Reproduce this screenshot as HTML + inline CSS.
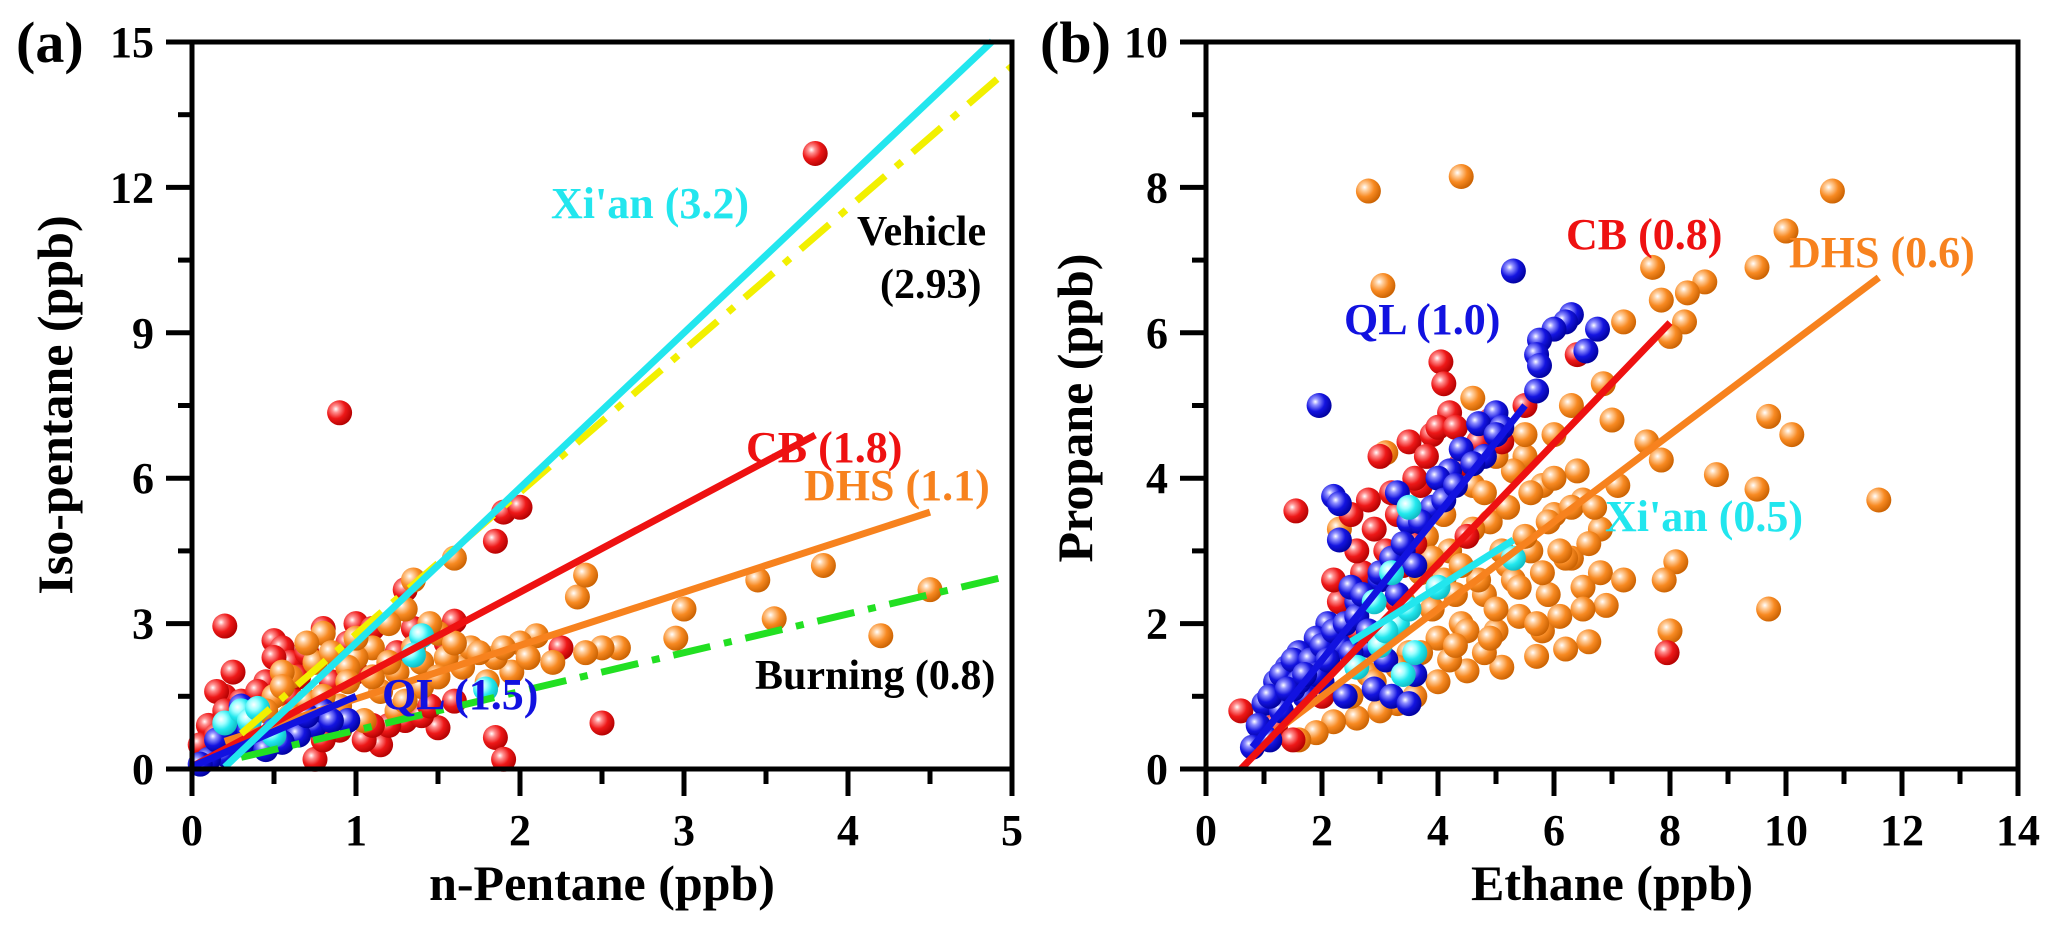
<!DOCTYPE html>
<html><head><meta charset="utf-8">
<style>
html,body{margin:0;padding:0;background:#fff;}
svg{display:block;font-family:"Liberation Serif",serif;font-weight:bold;}
</style></head>
<body>
<svg id="chart" width="2067" height="927" viewBox="0 0 2067 927" xmlns="http://www.w3.org/2000/svg">
<defs>
<radialGradient id="g-red" cx="0.35" cy="0.35" r="0.7"><stop offset="0" stop-color="#fff"/><stop offset="0.2" stop-color="#ff9090"/><stop offset="0.55" stop-color="#ee1818"/><stop offset="1" stop-color="#b00000"/></radialGradient>
<radialGradient id="g-orange" cx="0.35" cy="0.35" r="0.7"><stop offset="0" stop-color="#fff"/><stop offset="0.2" stop-color="#ffd0a0"/><stop offset="0.55" stop-color="#f88a22"/><stop offset="1" stop-color="#c86000"/></radialGradient>
<radialGradient id="g-blue" cx="0.35" cy="0.35" r="0.7"><stop offset="0" stop-color="#fff"/><stop offset="0.2" stop-color="#9090ff"/><stop offset="0.55" stop-color="#1414e0"/><stop offset="1" stop-color="#00009a"/></radialGradient>
<radialGradient id="g-cyan" cx="0.35" cy="0.35" r="0.7"><stop offset="0" stop-color="#fff"/><stop offset="0.3" stop-color="#a0ffff"/><stop offset="0.6" stop-color="#22e8ee"/><stop offset="1" stop-color="#10b8c0"/></radialGradient>
</defs>
<g id="pa"></g>
<g id="pb"></g>
</svg>
<script>
// ---- Panel (a) data ----
const aRedX=[0.9,3.8,1.9,1.85,2.0,0.2,0.25,0.2,0.1,0.05,0.5,0.55,0.6,0.7,0.8,1.0,1.1,1.3,1.6,1.85,1.9,2.5,2.25,1.5,1.3,1.15,1.05,0.75,0.9,0.4,0.3,0.15,1.4,1.2,0.6,0.45,0.7,0.35,0.85,1.0,1.6,1.25,0.15,0.3,0.5,0.65,0.95,1.35,1.55,0.2,0.4,0.8,1.1,1.45];
const aRedY=[7.35,12.7,5.3,4.7,5.4,2.95,2.0,1.5,0.9,0.5,2.65,2.5,2.2,2.4,2.9,3.0,2.9,3.7,3.05,0.65,0.2,0.95,2.5,0.85,1.0,0.5,0.6,0.2,0.8,1.3,1.0,0.7,1.1,0.9,1.5,1.8,1.1,0.6,1.8,2.0,1.4,2.4,1.6,1.4,2.3,1.9,2.6,2.9,2.6,1.2,1.6,0.6,0.9,1.3];
const aOrgX=[4.5,4.2,3.85,3.55,3.45,3.0,2.95,2.6,2.5,2.4,2.35,2.4,2.1,2.0,1.95,1.85,1.6,1.5,1.45,1.3,1.35,1.2,1.1,1.0,0.95,0.8,0.75,0.6,0.55,0.5,0.45,0.7,0.9,1.15,1.4,1.65,1.8,1.7,0.3,0.2,0.4,1.25,1.05,0.65,1.55,2.2,0.55,0.85,1.0,1.25,1.4,1.6,1.75,0.7,0.95,1.2,1.35,1.5,1.9,2.05,0.6,0.8,1.1,1.3];
const aOrgY=[3.7,2.75,4.2,3.1,3.9,3.3,2.7,2.5,2.5,2.4,3.55,4.0,2.75,2.6,2.0,2.3,4.35,2.8,3.0,3.3,3.9,3.0,2.5,2.3,2.1,2.8,2.2,1.9,2.0,1.5,1.2,1.4,1.3,1.6,1.7,2.1,1.8,2.5,0.9,0.5,0.5,1.2,1.0,0.8,2.3,2.2,1.7,2.4,2.7,2.0,2.2,2.6,2.4,2.6,1.8,2.2,2.5,1.9,2.5,2.3,1.1,1.5,1.9,1.4];
const aBluX=[0.95,0.75,0.6,0.65,0.5,0.4,0.3,0.2,0.1,0.05,0.3,0.25,0.45,0.15,0.8,0.55,0.35,0.7,0.85];
const aBluY=[1.0,0.9,0.9,0.7,0.8,0.6,0.5,0.3,0.2,0.1,1.3,0.9,0.4,0.6,1.2,0.55,0.8,1.1,1.0];
const aCyaX=[0.2,0.3,0.35,1.4,1.35,0.5,0.4,1.79];
const aCyaY=[0.95,1.2,1.0,2.75,2.35,0.7,1.25,1.65];
const aLineXian=[0.2,4.88,3.2,-0.6];
const aLineVehicle=[0.3,5.0,2.93,-0.15];
const aLineCB=[0,3.8,1.8,0.05];
const aLineDHS=[0.2,4.5,1.1,0.35];
const aLineBurning=[0.3,5.0,0.8,0.0];
const aLineQL=[0,1.0,1.45,0.05];
const aXTicks=[0,1,2,3,4,5];
const aYTicks=[0,3,6,9,12,15];

// ---- Panel (b) data ----
const bOrgX=[2.8,4.4,3.05,10.8,10.0,9.5,7.7,8.6,8.3,7.85,8.25,8.0,7.2,6.85,7.6,7.85,8.8,9.7,10.1,9.5,11.6,8.1,7.9,8.0,9.7,6.8,6.5,6.0,6.3,6.5,6.8,6.9,6.6,6.2,5.8,5.4,5.1,4.8,4.5,4.2,4.8,5.2,5.6,5.9,6.1,5.7,4.0,3.6,3.3,3.0,2.6,2.2,1.9,1.6,4.4,4.9,5.5,6.0,5.3,4.6,3.1,2.3,3.8,5.8,6.4,7.0,6.3,3.5,4.1,2.8,5.0,6.5,7.2,5.3,
 3.9,4.3,4.7,5.1,5.5,5.9,6.3,4.0,4.5,5.0,5.4,5.8,6.2,6.6,4.2,4.6,5.2,5.6,6.0,3.7,4.1,4.6,5.0,5.5,6.1,2.5,2.9,3.3,3.7,4.3,4.9,5.7,6.7,7.1,3.4,3.9,4.4,4.8];
const bOrgY=[7.95,8.15,6.65,7.95,7.4,6.9,6.9,6.7,6.55,6.45,6.15,5.95,6.15,5.3,4.5,4.25,4.05,4.85,4.6,3.85,3.7,2.85,2.6,1.9,2.2,3.3,3.7,3.5,2.9,2.5,2.7,2.25,1.75,1.65,1.9,2.1,1.4,1.6,1.35,1.5,2.4,2.8,3.0,2.4,2.1,1.55,1.2,1.0,0.9,0.8,0.7,0.65,0.5,0.4,2.0,3.4,4.3,4.6,4.1,5.1,4.35,3.3,3.2,3.9,4.1,4.8,5.0,1.6,2.6,1.3,1.9,2.2,2.6,2.6,
 2.2,2.4,2.6,3.0,3.2,3.4,3.6,1.8,1.9,2.2,2.5,2.7,2.9,3.1,3.0,3.3,3.6,3.8,4.0,2.7,3.5,3.9,4.3,4.6,3.0,1.0,1.2,1.4,1.6,1.7,1.8,2.0,3.6,3.9,2.3,2.9,2.8,3.8];
const bRedX=[0.6,1.55,2.3,2.2,2.5,2.8,3.0,3.5,3.9,4.05,4.1,4.2,4.0,4.5,3.1,2.7,2.4,3.3,3.7,4.4,4.9,5.5,6.4,7.95,1.2,1.5,2.0,2.6,3.3,3.6,5.1,2.9,3.2,3.6,3.8,4.3,4.7,2.6,3.4,1.8,2.1];
const bRedY=[0.8,3.55,2.3,2.6,3.5,3.7,4.3,4.5,4.6,5.6,5.3,4.9,4.7,3.2,3.0,2.7,2.0,3.5,3.9,4.2,4.8,5.0,5.7,1.6,0.6,0.4,1.0,1.9,2.3,4.0,4.5,3.3,3.8,3.1,4.3,4.7,4.5,3.0,2.8,1.5,1.9];
const bBluX=[5.3,6.3,6.2,6.0,6.75,5.75,5.7,5.75,6.55,5.7,5.0,4.7,4.2,4.0,3.3,2.2,2.3,1.95,2.3,3.5,3.4,3.0,2.6,2.5,2.1,1.9,1.6,1.4,1.2,1.0,0.9,0.8,1.3,1.7,2.0,2.4,2.9,3.2,3.5,3.6,2.8,3.9,4.4,4.8,5.1,1.1,1.5,2.3,3.1,
 1.3,1.5,1.8,2.0,2.2,2.4,2.6,2.7,3.0,3.2,3.4,3.7,4.1,4.3,4.6,5.0,1.6,1.9,2.1,2.5,2.8,3.3,3.6,1.1,1.4,1.7];
const bBluY=[6.85,6.25,6.15,6.05,6.05,5.9,5.7,5.55,5.75,5.2,4.9,4.75,4.1,4.0,3.8,3.75,3.65,5.0,3.15,3.4,3.0,2.6,2.3,2.5,2.0,1.8,1.6,1.4,1.2,0.9,0.6,0.3,0.8,1.0,1.2,1.0,1.1,1.0,0.9,1.3,1.7,3.6,4.4,4.3,4.7,0.4,1.1,1.7,1.5,
 1.3,1.5,1.5,1.7,1.9,2.0,2.1,2.4,2.7,2.9,3.1,3.4,3.7,3.9,4.2,4.6,1.2,1.3,1.5,1.6,1.9,2.4,2.8,1.0,1.1,1.3];
const bCyaX=[3.5,3.2,2.9,3.3,3.6,3.0,4.0,5.3,2.6,3.4,3.1,3.5];
const bCyaY=[3.6,2.7,2.3,2.0,1.6,1.7,2.5,2.9,1.4,1.3,1.9,2.2];
const bLineCB=[0.6,8.0,0.83,-0.5];
const bLineDHS=[1.2,11.6,0.6,-0.2];
const bLineQL=[0.8,5.5,1.0,-0.5];
const bLineXian=[2.5,5.3,0.5,0.5];
const bXTicks=[0,2,4,6,8,10,12,14];
const bYTicks=[0,2,4,6,8,10];

const NS="http://www.w3.org/2000/svg";
function mk(tag,attrs,parent){const e=document.createElementNS(NS,tag);for(const k in attrs)e.setAttribute(k,attrs[k]);parent.appendChild(e);return e;}

function panel(g,o){
  const sx=v=>o.left+(v-o.xmin)/(o.xmax-o.xmin)*(o.right-o.left);
  const sy=v=>o.bottom-(v-o.ymin)/(o.ymax-o.ymin)*(o.bottom-o.top);
  for(const s of o.series){
    const sg=mk('g',{},g);
    
    
    for(let i=0;i<s.x.length;i++){
      const c=mk('circle',{cx:sx(s.x[i]),cy:sy(s.y[i]),r:12.5,fill:'url(#'+s.grad+')'},sg);
      
      
    }
  }
  for(const L of o.lines){
    const d=L.d;
    const ln=mk('line',{x1:sx(d[0]),y1:sy(d[2]*d[0]+d[3]),x2:sx(d[1]),y2:sy(d[2]*d[1]+d[3]),stroke:L.color,'stroke-width':7},g);
    if(L.dash)ln.setAttribute('stroke-dasharray','38,14,8,14');
    
    
  }
  const fr=mk('rect',{x:o.left,y:o.top,width:o.right-o.left,height:o.bottom-o.top,fill:'none',stroke:'#000','stroke-width':5},g);
  
  
  const xs=o.xTicks, ys=o.yTicks;
  const xstep=xs[1]-xs[0], ystep=ys[1]-ys[0];
  for(let i=0;i<xs.length;i++){
    const X=sx(xs[i]);
    mk('line',{x1:X,y1:o.bottom,x2:X,y2:o.bottom+27,stroke:'#000','stroke-width':5},g);
    if(i<xs.length-1){const m=sx(xs[i]+xstep/2);mk('line',{x1:m,y1:o.bottom,x2:m,y2:o.bottom+15,stroke:'#000','stroke-width':5},g);}
    const t=mk('text',{x:X,y:o.bottom+76,'text-anchor':'middle','font-size':44},g);t.textContent=xs[i];
    
    
  }
  for(let i=0;i<ys.length;i++){
    const Y=sy(ys[i]);
    mk('line',{x1:o.left-26,y1:Y,x2:o.left,y2:Y,stroke:'#000','stroke-width':5},g);
    if(i<ys.length-1){const m=sy(ys[i]+ystep/2);mk('line',{x1:o.left-14,y1:m,x2:o.left,y2:m,stroke:'#000','stroke-width':5},g);}
    const t=mk('text',{x:o.left-38,y:Y+15,'text-anchor':'end','font-size':44},g);t.textContent=ys[i];
    
    
  }
  const xt=mk('text',{x:(o.left+o.right)/2,y:900,'text-anchor':'middle','font-size':50},g);xt.textContent=o.xTitle;
  
  
  const yt=mk('text',{x:0,y:0,'text-anchor':'middle','font-size':50,transform:'translate('+o.ytx+','+o.yty+') rotate(-90)'},g);yt.textContent=o.yTitle;
  
  
  const pl=mk('text',{x:o.plx,y:62,'font-size':58},g);pl.textContent=o.panelLabel;
  
  
  for(const a of o.anns){
    const t=mk('text',{x:a[0],y:a[1],fill:a[3],'font-size':a[4]},g);t.textContent=a[2];
    
    
  }
}

const R='#ee1111',O='#f7821e',B='#1212e0',C='#22e6ee',Yw='#f2f000',G='#22e022';
panel(document.getElementById('pa'),{
  left:192,right:1012,top:42,bottom:769,xmin:0,xmax:5,ymin:0,ymax:15,
  xTicks:aXTicks,yTicks:aYTicks,xTitle:'n-Pentane (ppb)',yTitle:'Iso-pentane (ppb)',ytx:72,yty:405,plx:16,panelLabel:'(a)',
  series:[
    {name:'cb-points',x:aRedX,y:aRedY,grad:'g-red'},
    {name:'dhs-points',x:aOrgX,y:aOrgY,grad:'g-orange'},
    {name:'ql-points',x:aBluX,y:aBluY,grad:'g-blue'},
    {name:'xian-points',x:aCyaX,y:aCyaY,grad:'g-cyan'}],
  lines:[
    {name:'burning-line',d:aLineBurning,color:G,dash:true},
    {name:'dhs-line',d:aLineDHS,color:O},
    {name:'cb-line',d:aLineCB,color:R},
    {name:'ql-line',d:aLineQL,color:B},
    {name:'vehicle-line',d:aLineVehicle,color:Yw,dash:true},
    {name:'xian-line',d:aLineXian,color:C}],
  anns:[[551,218,"Xi'an (3.2)",C,44],[857,245,'Vehicle','#000',42],[880,298,'(2.93)','#000',42],
        [746,462,'CB (1.8)',R,44],[804,500,'DHS (1.1)',O,44],[755,689,'Burning (0.8)','#000',42],[382,709,'QL (1.5)',B,44]]
});
panel(document.getElementById('pb'),{
  left:1206,right:2018,top:42,bottom:769,xmin:0,xmax:14,ymin:0,ymax:10,
  xTicks:bXTicks,yTicks:bYTicks,xTitle:'Ethane (ppb)',yTitle:'Propane (ppb)',ytx:1092,yty:408,plx:1040,panelLabel:'(b)',
  series:[
    {name:'dhs-points',x:bOrgX,y:bOrgY,grad:'g-orange'},
    {name:'cb-points',x:bRedX,y:bRedY,grad:'g-red'},
    {name:'ql-points',x:bBluX,y:bBluY,grad:'g-blue'},
    {name:'xian-points',x:bCyaX,y:bCyaY,grad:'g-cyan'}],
  lines:[
    {name:'dhs-line',d:bLineDHS,color:O},
    {name:'cb-line',d:bLineCB,color:R},
    {name:'ql-line',d:bLineQL,color:B},
    {name:'xian-line',d:bLineXian,color:C}],
  anns:[[1566,249,'CB (0.8)',R,44],[1789,267,'DHS (0.6)',O,44],[1344,334,'QL (1.0)',B,44],[1605,531,"Xi'an (0.5)",C,44]]
});
</script>
</body></html>
